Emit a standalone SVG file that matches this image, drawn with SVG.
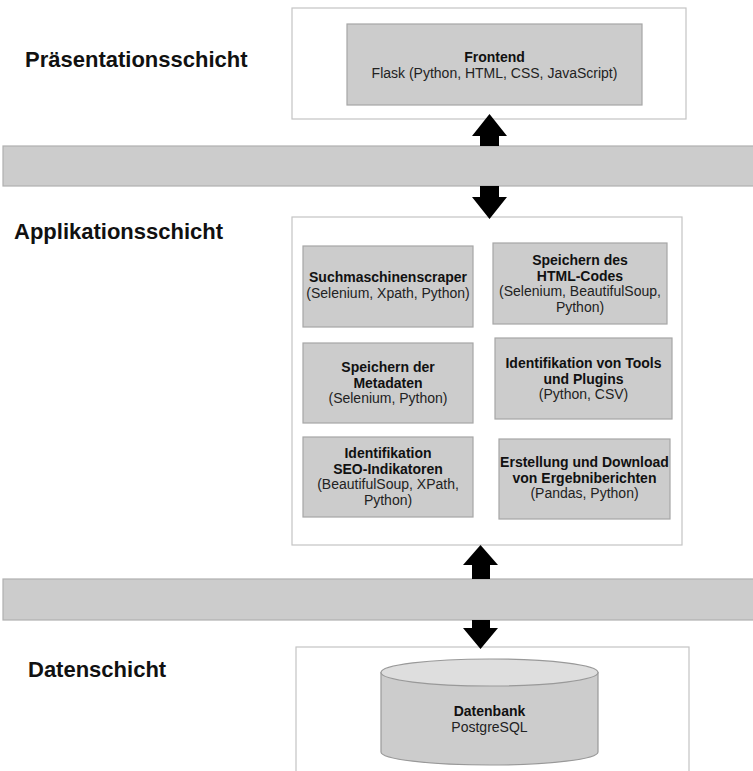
<svg xmlns="http://www.w3.org/2000/svg" width="753" height="771" viewBox="0 0 753 771">
<style>
.bg{fill:#ffffff}
.container{fill:#ffffff;stroke:#c4c4c4;stroke-width:1.2}
.band{fill:#cccccc;stroke:#b0b0b0;stroke-width:1.2}
.box{fill:#cccccc;stroke:#a6a6a6;stroke-width:1.2}
.layer{font-family:"Liberation Sans",Arial,sans-serif;font-size:22px;font-weight:bold;fill:#111111}
.t{font-family:"Liberation Sans",Arial,sans-serif;font-size:14px;fill:#222222;text-anchor:middle}
.b{font-weight:bold;fill:#111111}
.arrow{fill:#000000}
.cylbody{fill:#cccccc;stroke:#999999;stroke-width:1.2}
.cyltop{fill:#dedede;stroke:#999999;stroke-width:1.2}
</style>
<rect class="bg" x="0" y="0" width="753" height="771"/>

<g id="label-praesentation"><text class="layer" x="25" y="67">Präsentationsschicht</text></g>
<g id="label-applikation"><text class="layer" x="14" y="239">Applikationsschicht</text></g>
<g id="label-daten"><text class="layer" x="28" y="677">Datenschicht</text></g>

<g id="band-top"><rect class="band" x="3" y="146" width="760" height="40"/></g>
<g id="band-bottom"><rect class="band" x="3" y="579" width="760" height="41"/></g>

<g id="container-praesentation"><rect class="container" x="292" y="8" width="394" height="111"/></g>
<g id="frontend">
<rect class="box" x="347" y="24" width="295" height="81"/>
<text class="t" x="494.5" y="62"><tspan class="b">Frontend</tspan><tspan x="494.5" dy="15.5">Flask (Python, HTML, CSS, JavaScript)</tspan></text>
</g>

<g id="container-applikation"><rect class="container" x="292" y="217" width="390" height="328"/></g>
<g id="suchmaschinenscraper">
<rect class="box" x="303" y="246" width="170" height="81"/>
<text class="t" x="388" y="282"><tspan class="b">Suchmaschinenscraper</tspan><tspan x="388" dy="15.5">(Selenium, Xpath, Python)</tspan></text>
</g>
<g id="speichern-html">
<rect class="box" x="493" y="243" width="174" height="81"/>
<text class="t" x="580" y="265"><tspan class="b">Speichern des</tspan><tspan class="b" x="580" dy="15.5">HTML-Codes</tspan><tspan x="580" dy="15.5">(Selenium, BeautifulSoup,</tspan><tspan x="580" dy="15.5">Python)</tspan></text>
</g>
<g id="speichern-metadaten">
<rect class="box" x="303" y="343" width="170" height="80"/>
<text class="t" x="388" y="372"><tspan class="b">Speichern der</tspan><tspan class="b" x="388" dy="15.5">Metadaten</tspan><tspan x="388" dy="15.5">(Selenium, Python)</tspan></text>
</g>
<g id="identifikation-tools">
<rect class="box" x="495" y="338" width="177" height="81"/>
<text class="t" x="583.5" y="368"><tspan class="b">Identifikation von Tools</tspan><tspan class="b" x="583.5" dy="15.5">und Plugins</tspan><tspan x="583.5" dy="15.5">(Python, CSV)</tspan></text>
</g>
<g id="identifikation-seo">
<rect class="box" x="303" y="437" width="170" height="80"/>
<text class="t" x="388" y="458"><tspan class="b">Identifikation</tspan><tspan class="b" x="388" dy="15.5">SEO-Indikatoren</tspan><tspan x="388" dy="15.5">(BeautifulSoup, XPath,</tspan><tspan x="388" dy="15.5">Python)</tspan></text>
</g>
<g id="erstellung-download">
<rect class="box" x="499" y="439" width="171" height="80"/>
<text class="t" x="584.5" y="467"><tspan class="b">Erstellung und Download</tspan><tspan class="b" x="584.5" dy="15.5">von Ergebniberichten</tspan><tspan x="584.5" dy="15.5">(Pandas, Python)</tspan></text>
</g>

<g id="container-daten"><rect class="container" x="296" y="647" width="393" height="140"/></g>
<g id="datenbank">
<path class="cylbody" d="M381,672.5 L381,752 A108.5,13 0 0 0 598,752 L598,672.5 Z"/>
<ellipse class="cyltop" cx="489.5" cy="672.5" rx="108.5" ry="13.5"/>
<text class="t" x="489.5" y="716"><tspan class="b">Datenbank</tspan><tspan x="489.5" dy="15.5">PostgreSQL</tspan></text>
</g>

<g id="connectors">
<polygon class="arrow" points="489.5,114 507,136 499,136 499,146 480,146 480,136 472,136"/>
<polygon class="arrow" points="480,186 499,186 499,197 507,197 489.5,219 472,197 480,197"/>
<polygon class="arrow" points="480.5,545 498,565 490,565 490,579 472,579 472,565 463,565"/>
<polygon class="arrow" points="472,620 490,620 490,628 498,628 480.5,649 463,628 472,628"/>
</g>
</svg>
